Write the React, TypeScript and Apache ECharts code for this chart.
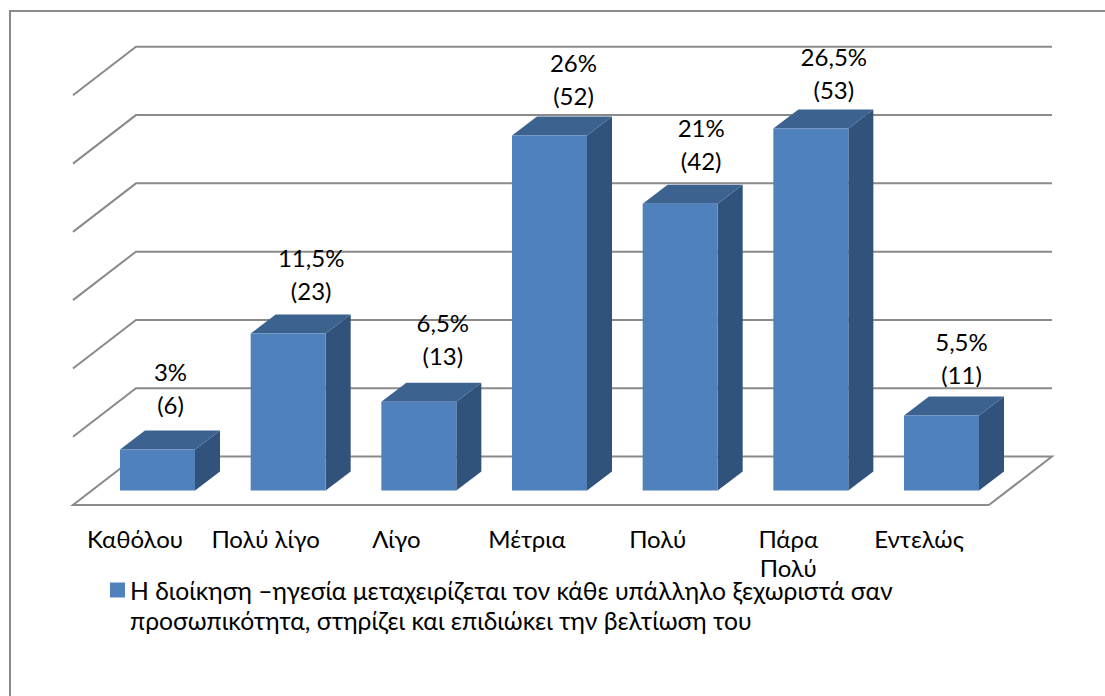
import React, { useEffect, useRef } from "react";
import * as echarts from "echarts";

const categories = ["Καθόλου", "Πολύ λίγο", "Λίγο", "Μέτρια", "Πολύ", "Πάρα\nΠολύ", "Εντελώς"];
const counts = [6, 23, 13, 52, 42, 53, 11];
const percentLabels = ["3%", "11,5%", "6,5%", "26%", "21%", "26,5%", "5,5%"];
const gridTicks = [0, 10, 20, 30, 40, 50, 60];
const seriesName =
  "Η διοίκηση –ηγεσία μεταχειρίζεται τον κάθε υπάλληλο ξεχωριστά σαν\nπροσωπικότητα, στηρίζει και επιδιώκει την βελτίωση του";

// Hand-placed data label shifts (x, y), in pixels from the default spot above each bar.
const labelShiftX = [-11, -1, 0, 0, -3, -1, -4];
const labelShiftY = [-2, 0, -3, 3, 0, 4, 2];

const FONT = "Lato, 'Open Sans', sans-serif";
const FONT_SIZE = 24;
const GRID_COLOR = "#8a8a8a";
const FRONT = "#4f81bd";
const TOP = "#3c6290";
const SIDE = "#31527a";

// Oblique projection: floor depth vector, and where a bar sits inside that depth.
const DEPTH_X = 63;
const DEPTH_Y = -48.5;
const BAR_PLANE_X = 22.5;
const BAR_PLANE_Y = -14.5;
const BAR_DEPTH_X = 25;
const BAR_DEPTH_Y = -19;
const BAR_WIDTH = 75;
const FLOOR_LEFT_INSET = 3.3;
const FLOOR_RIGHT_EXTRA = 1.3;

function renderGridLine(params: any, api: any) {
  const value = api.value(1);
  const band = api.size([1, 0])[0];
  const [cx, y] = api.coord([0, value]);
  const left = cx - band / 2 + FLOOR_LEFT_INSET;
  const right = left + band * categories.length + FLOOR_RIGHT_EXTRA;
  const backLeft = [left + DEPTH_X, y + DEPTH_Y];
  const backRight = [right + DEPTH_X, y + DEPTH_Y];
  const points =
    value === 0
      ? [[right, y], [left, y], backLeft, backRight, [right, y]]
      : [[left, y], backLeft, backRight];
  return {
    type: "polyline",
    shape: { points },
    style: { stroke: GRID_COLOR, lineWidth: 2, fill: "none", lineJoin: "miter" },
  };
}

function renderBar(params: any, api: any) {
  const i = params.dataIndex;
  const [cx, yTop] = api.coord([api.value(0), api.value(1)]);
  const [, yBase] = api.coord([api.value(0), 0]);
  const x0 = cx + BAR_PLANE_X - BAR_WIDTH / 2;
  const x1 = x0 + BAR_WIDTH;
  const top = yTop + BAR_PLANE_Y;
  const base = yBase + BAR_PLANE_Y;
  const dx = BAR_DEPTH_X;
  const dy = BAR_DEPTH_Y;
  return {
    type: "group",
    children: [
      {
        type: "polygon",
        shape: { points: [[x1, top], [x1 + dx, top + dy], [x1 + dx, base + dy], [x1, base]] },
        style: { fill: SIDE },
      },
      {
        type: "polygon",
        shape: { points: [[x0, top], [x0 + dx, top + dy], [x1 + dx, top + dy], [x1, top]] },
        style: { fill: TOP },
      },
      {
        type: "polygon",
        shape: { points: [[x0, top], [x1, top], [x1, base], [x0, base]] },
        style: { fill: FRONT },
      },
      {
        type: "text",
        style: {
          text: `${percentLabels[i]}\n(${counts[i]})`,
          x: cx + BAR_PLANE_X + 24 + labelShiftX[i],
          y: top - 43 - 16.5 + labelShiftY[i],
          align: "center",
          verticalAlign: "middle",
          fontFamily: FONT,
          fontSize: FONT_SIZE,
          lineHeight: 33,
          fill: "#000000",
        },
      },
    ],
  };
}

export default function App() {
  const ref = useRef<HTMLDivElement>(null);

  useEffect(() => {
    const chart = echarts.init(ref.current!, undefined, { renderer: "svg" });
    chart.setOption({
      animation: false,
      backgroundColor: "#ffffff",
      textStyle: { fontFamily: FONT },
      grid: { left: 69.67, width: 914.67, top: 95.3, height: 409.7, containLabel: false },
      xAxis: {
        type: "category",
        data: categories,
        axisLine: { show: false },
        axisTick: { show: false },
        axisLabel: {
          interval: 0,
          margin: 19,
          color: "#000000",
          fontFamily: FONT,
          fontSize: FONT_SIZE,
          lineHeight: 29,
          verticalAlign: "top",
        },
      },
      yAxis: {
        type: "value",
        min: 0,
        max: 60,
        interval: 10,
        axisLine: { show: false },
        axisTick: { show: false },
        axisLabel: { show: false },
        splitLine: { show: false },
      },
      legend: {
        data: [{ name: seriesName, icon: "rect" }],
        selectedMode: false,
        left: 110,
        top: 545,
        itemWidth: 15,
        itemHeight: 15,
        itemGap: 0,
        padding: 0,
        // The leading blank line keeps the swatch level with the first line of text.
        formatter: (name: string) => `\n${name}`,
        textStyle: {
          color: "#000000",
          fontFamily: FONT,
          fontSize: 24.7,
          lineHeight: 30,
        },
      },
      graphic: [
        {
          type: "polyline",
          silent: true,
          shape: { points: [[10, 696], [10, 11], [1105, 11]] },
          style: { stroke: GRID_COLOR, lineWidth: 2, fill: "none" },
        },
      ],
      series: [
        {
          type: "custom",
          name: "grid",
          silent: true,
          renderItem: renderGridLine,
          data: gridTicks.map((t) => [0, t]),
          z: 1,
        },
        {
          type: "custom",
          name: seriesName,
          renderItem: renderBar,
          itemStyle: { color: FRONT },
          data: counts.map((c, i) => [i, c]),
          z: 2,
        },
      ],
    });
    return () => chart.dispose();
  }, []);

  return <div ref={ref} style={{ position: "fixed", left: 0, top: 0, width: 1105, height: 696 }} />;
}
